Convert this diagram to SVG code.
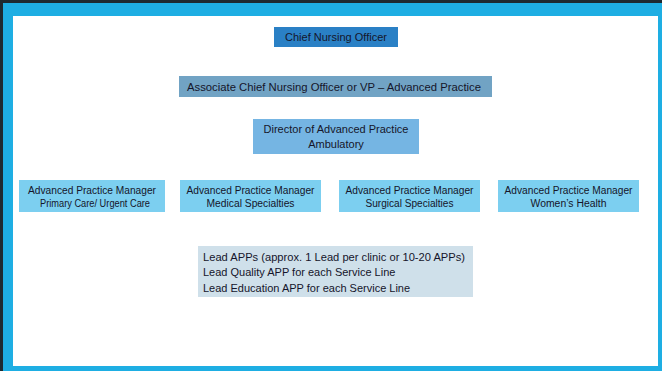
<svg xmlns="http://www.w3.org/2000/svg" width="662" height="371" viewBox="0 0 662 371">
<style>
text{font-family:"Liberation Sans",Arial,sans-serif;font-size:11px;fill:#15152a;text-anchor:middle}
.mgr text{font-size:10px}
.lead text{text-anchor:start}
</style>
<rect x="0" y="0" width="662" height="371" fill="#1e2a30"/>
<rect x="3" y="3" width="659" height="368" fill="#1eaee3"/>
<rect x="13" y="16" width="645" height="350" fill="#ffffff"/>
<g id="cno"><rect x="274" y="27" width="124" height="20" fill="#2a80c5"/><text x="336" y="41">Chief Nursing Officer</text></g>
<g id="acno"><rect x="179" y="76" width="313" height="21" fill="#71a3c4"/><text x="334" y="91" textLength="294" lengthAdjust="spacingAndGlyphs">Associate Chief Nursing Officer or VP – Advanced Practice</text></g>
<g id="director"><rect x="253" y="119" width="166" height="35" fill="#75b5e3"/><text x="336" y="133" font-size="11.5">Director of Advanced Practice</text><text x="336" y="148" font-size="11.5">Ambulatory</text></g>
<g id="mgr1" class="mgr"><rect x="19" y="180" width="146" height="32" fill="#7ccff0"/><text x="92" y="194" textLength="128" lengthAdjust="spacingAndGlyphs">Advanced Practice Manager</text><text x="95" y="207" textLength="110" lengthAdjust="spacingAndGlyphs">Primary Care/ Urgent Care</text></g>
<g id="mgr2" class="mgr"><rect x="180" y="180" width="141" height="32" fill="#7ccff0"/><text x="250.5" y="194" textLength="128" lengthAdjust="spacingAndGlyphs">Advanced Practice Manager</text><text x="250.5" y="207" textLength="88" lengthAdjust="spacingAndGlyphs">Medical Specialties</text></g>
<g id="mgr3" class="mgr"><rect x="339" y="180" width="141" height="32" fill="#7ccff0"/><text x="409.5" y="194" textLength="128" lengthAdjust="spacingAndGlyphs">Advanced Practice Manager</text><text x="409.5" y="207" textLength="88" lengthAdjust="spacingAndGlyphs">Surgical Specialties</text></g>
<g id="mgr4" class="mgr"><rect x="498" y="180" width="141" height="32" fill="#7ccff0"/><text x="568.5" y="194" textLength="128" lengthAdjust="spacingAndGlyphs">Advanced Practice Manager</text><text x="568.5" y="207" textLength="76" lengthAdjust="spacingAndGlyphs">Women’s Health</text></g>
<g id="lead" class="lead"><rect x="198" y="246" width="275" height="51" fill="#cfe0ea"/>
<text x="203" y="261" textLength="262" lengthAdjust="spacingAndGlyphs">Lead APPs (approx. 1 Lead per clinic or 10-20 APPs)</text>
<text x="203" y="276">Lead Quality APP for each Service Line</text>
<text x="203" y="292">Lead Education APP for each Service Line</text></g>
<g id="connectors"></g>
</svg>
